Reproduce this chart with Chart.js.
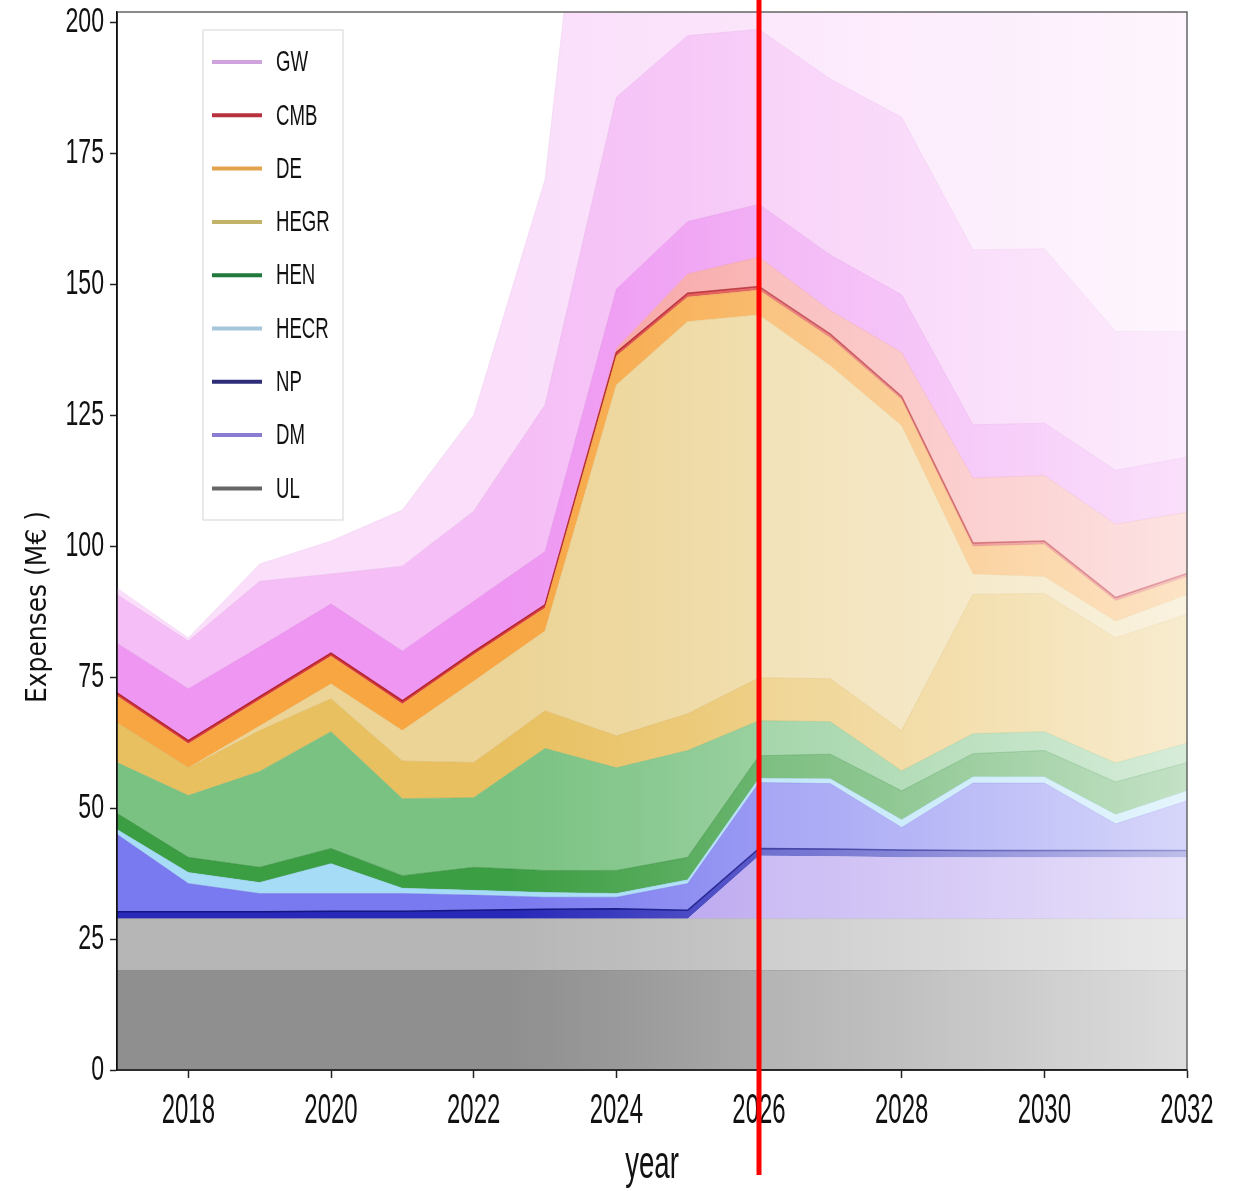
<!DOCTYPE html>
<html>
<head>
<meta charset="utf-8">
<title>Expenses</title>
<script src="https://cdn.jsdelivr.net/npm/chart.js@4.4.1/dist/chart.umd.min.js"></script>
<style>
  html, body { margin: 0; padding: 0; background: #fff; overflow: hidden; }
  #caixa { width: 1241px; height: 1191px; position: relative; }
</style>
</head>
<body>
<div id="caixa"><canvas id="grafico"></canvas></div>
<script>
const years = [2017, 2018, 2019, 2020, 2021, 2022, 2023, 2024, 2025, 2026, 2027, 2028, 2029, 2030, 2031, 2032]
const xTicks = [2018, 2020, 2022, 2024, 2026, 2028, 2030, 2032]
const yTicks = [0, 25, 50, 75, 100, 125, 150, 175, 200]
const forecastYear = 2026

// upper edge of every band (M€), bottom band first
const ulCore    = [19, 19, 19, 19, 19, 19, 19, 19, 19, 19, 19, 19, 19, 19, 19, 19]
const ulExtra   = [28.9, 28.9, 28.9, 28.9, 28.9, 28.9, 28.9, 28.9, 28.9, 28.9, 28.9, 28.9, 28.9, 28.9, 28.9, 28.9]
const dmTop     = [28.9, 28.9, 28.9, 28.9, 28.9, 28.9, 28.9, 28.9, 28.9, 40.9, 40.8, 40.6, 40.6, 40.6, 40.6, 40.6]
const npCore    = [30.2, 30.2, 30.2, 30.3, 30.3, 30.5, 30.7, 30.8, 30.5, 42.3, 42.2, 42.0, 41.9, 41.9, 41.9, 41.9]
const npExtra   = [45.0, 35.6, 33.7, 33.7, 33.7, 33.4, 33.0, 33.0, 35.6, 54.9, 54.7, 46.3, 54.8, 54.8, 47.0, 51.4]
const hecrTop   = [45.9, 37.7, 35.8, 39.4, 34.7, 34.3, 33.9, 33.7, 36.3, 55.7, 55.6, 47.8, 56.0, 56.0, 48.8, 53.3]
const henCore   = [49.0, 40.6, 38.7, 42.3, 37.1, 38.7, 38.1, 38.1, 40.6, 60.0, 60.3, 53.3, 60.4, 61.0, 55.0, 58.7]
const henExtra  = [58.7, 52.4, 57.0, 64.6, 51.8, 52.0, 61.4, 57.7, 61.0, 66.7, 66.5, 57.1, 64.2, 64.6, 58.6, 62.4]
const hegrCore  = [66.3, 57.7, 64.8, 70.9, 59.0, 58.7, 68.6, 63.8, 68.0, 74.9, 74.7, 64.8, 90.8, 91.0, 82.5, 87.0]
const hegrExtra = [66.3, 57.7, 65.7, 73.7, 64.8, 74.2, 83.8, 130.8, 142.9, 144.2, 134.5, 123.0, 94.7, 94.2, 85.7, 90.8]
const deTop     = [71.4, 62.3, 70.7, 79.0, 69.9, 79.3, 88.2, 136.3, 147.6, 148.9, 139.8, 128.0, 100.0, 100.4, 89.6, 94.2]
const cmbCore   = [72.0, 62.9, 71.3, 79.6, 70.5, 79.9, 88.8, 137.0, 148.3, 149.6, 140.5, 128.6, 100.6, 101.0, 90.2, 94.8]
const cmbExtra  = [72.0, 62.9, 71.3, 79.6, 70.5, 79.9, 88.8, 137.7, 152.0, 155.2, 145.0, 137.0, 113.0, 113.5, 104.2, 106.5]
const gwCore    = [81.5, 72.8, 80.8, 89.0, 80.0, 89.5, 99.0, 149.1, 162.0, 165.3, 155.6, 148.0, 123.2, 123.5, 114.5, 117.0]
const gwExtra   = [90.8, 81.9, 93.3, 94.7, 96.2, 106.7, 127.0, 185.7, 197.5, 198.7, 189.2, 181.9, 156.6, 156.8, 141.0, 141.0]
const gwOuter   = [92.0, 82.5, 96.6, 101.0, 106.9, 125.0, 170.0, 290, 300, 300, 300, 300, 300, 300, 300, 300]

const legendNames  = ['GW', 'CMB', 'DE', 'HEGR', 'HEN', 'HECR', 'NP', 'DM', 'UL']
const legendColors = ['#cfa3dc', '#b8323e', '#e3a24e', '#c2b26a', '#1f7a3c', '#a6c6dc', '#2e2e78', '#8a7cd0', '#666666']

// projection fades out to the right
const fadeYears = [2017, 2022.5, 2024, 2025, 2025.95, 2026.05, 2028, 2030, 2032]
const fadeAlpha = [1, 1, 0.91, 0.84, 0.77, 0.67, 0.56, 0.43, 0.3]

const fonte = '"Liberation Sans", Arial, sans-serif'

function faded(rgb, k) {
    return (context) => {
        const chart = context.chart
        const x = chart.scales.x
        if (!chart.chartArea || !x) return 'rgba(' + rgb + ',' + k + ')'
        const first = years[0]
        const last = years[years.length - 1]
        const g = chart.ctx.createLinearGradient(x.getPixelForValue(first), 0, x.getPixelForValue(last), 0)
        fadeYears.forEach((yr, i) => {
            g.addColorStop((yr - first) / (last - first), 'rgba(' + rgb + ',' + (fadeAlpha[i] * k) + ')')
        })
        return g
    }
}

// narrow text, like the squeezed labels of the original figure
function texto(ctx, str, x, y, size, sx, align) {
    ctx.save()
    ctx.translate(x, y)
    ctx.scale(sx, 1)
    ctx.font = size + 'px ' + fonte
    ctx.textAlign = align
    ctx.textBaseline = 'middle'
    ctx.fillStyle = '#111'
    ctx.fillText(str, 0, 0)
    ctx.restore()
}

const bandas = [
    { top: ulCore,    fill: '143,143,143', edge: '100,100,100', ea: 0.5, lw: 1 },
    { top: ulExtra,   fill: '182,182,182', edge: '150,150,150', ea: 0.4, lw: 1 },
    { top: dmTop,     fill: '178,155,238', edge: '150,120,220', ea: 0.3, lw: 0 },
    { top: npCore,    fill: '40,40,185',   edge: '20,20,130',   ea: 1,   lw: 1.5 },
    { top: npExtra,   fill: '122,122,240', edge: '100,100,220', ea: 0.4, lw: 1 },
    { top: hecrTop,   fill: '166,220,246', edge: '140,200,235', ea: 0.5, lw: 1 },
    { top: henCore,   fill: '60,158,66',   edge: '40,130,50',   ea: 0.5, lw: 1 },
    { top: henExtra,  fill: '122,194,130', edge: '100,170,100', ea: 0.4, lw: 1 },
    { top: hegrCore,  fill: '232,192,96',  edge: '210,170,80',  ea: 0.4, lw: 1 },
    { top: hegrExtra, fill: '236,212,150', edge: '220,190,120', ea: 0.4, lw: 1 },
    { top: deTop,     fill: '247,166,66',  edge: '230,140,50',  ea: 0.4, lw: 1 },
    { top: cmbCore,   fill: '220,60,60',   edge: '170,30,40',   ea: 0.9, lw: 1.5 },
    { top: cmbExtra,  fill: '248,160,160', edge: '230,130,140', ea: 0.4, lw: 1 },
    { top: gwCore,    fill: '238,150,242', edge: '215,130,220', ea: 0.4, lw: 1 },
    { top: gwExtra,   fill: '245,190,246', edge: '220,160,225', ea: 0.35, lw: 1 },
    { top: gwOuter,   fill: '250,222,250', edge: '230,190,235', ea: 0.35, lw: 1 }
]

const datasets = bandas.map((b, i) => ({
    data: b.top,
    fill: i === 0 ? 'origin' : '-1',
    backgroundColor: faded(b.fill, 1),
    borderColor: faded(b.edge, b.ea),
    borderWidth: b.lw,
    pointRadius: 0,
    tension: 0
}))

const extras = {
    id: 'extras',
    afterDraw(chart) {
        const { ctx, chartArea: a, scales } = chart
        ctx.save()

        // frame
        ctx.lineWidth = 1.5
        ctx.strokeStyle = '#666'
        ctx.beginPath()
        ctx.moveTo(a.left, a.top); ctx.lineTo(a.right, a.top); ctx.lineTo(a.right, a.bottom)
        ctx.stroke()
        ctx.strokeStyle = '#111'
        ctx.beginPath()
        ctx.moveTo(a.left, a.top); ctx.lineTo(a.left, a.bottom); ctx.lineTo(a.right, a.bottom)
        ctx.stroke()

        // tick labels and axis titles
        scales.x.ticks.forEach(t => {
            texto(ctx, String(t.value), scales.x.getPixelForValue(t.value), a.bottom + 41, 42, 0.57, 'center')
        })
        scales.y.ticks.forEach(t => {
            texto(ctx, String(t.value), a.left - 13, scales.y.getPixelForValue(t.value), 35, 0.66, 'right')
        })
        texto(ctx, 'year', (a.left + a.right) / 2, a.bottom + 95, 46, 0.6, 'center')

        ctx.save()
        ctx.translate(39, 607)
        ctx.rotate(-Math.PI / 2)
        ctx.scale(1, 1.12)
        ctx.font = '25px "DejaVu Sans", sans-serif'
        ctx.fillStyle = '#111'
        ctx.textAlign = 'center'
        ctx.textBaseline = 'middle'
        ctx.fillText('Expenses (M€ )', 0, 0)
        ctx.restore()

        // legend
        const lx = a.left + 86
        const ly = a.top + 18
        ctx.fillStyle = 'rgba(255,255,255,0.85)'
        ctx.fillRect(lx, ly, 140, 490)
        ctx.strokeStyle = '#dddddd'
        ctx.lineWidth = 1.2
        ctx.strokeRect(lx, ly, 140, 490)
        legendNames.forEach((nome, i) => {
            const y = ly + 32 + i * 53.3
            ctx.strokeStyle = legendColors[i]
            ctx.lineWidth = 4
            ctx.beginPath()
            ctx.moveTo(lx + 9, y); ctx.lineTo(lx + 59, y)
            ctx.stroke()
            texto(ctx, nome, lx + 73, y + 1, 30, 0.62, 'left')
        })

        // forecast start
        const xr = scales.x.getPixelForValue(forecastYear)
        ctx.strokeStyle = '#ff0000'
        ctx.lineWidth = 5
        ctx.beginPath()
        ctx.moveTo(xr, 0); ctx.lineTo(xr, a.bottom + 105)
        ctx.stroke()

        ctx.restore()
    }
}

new Chart(document.getElementById('grafico'), {
    type: 'line',
    data: { labels: years, datasets: datasets },
    options: {
        responsive: true,
        maintainAspectRatio: false,
        animation: false,
        events: [],
        layout: { padding: { top: 12, right: 54, left: 0, bottom: 0 } },
        plugins: {
            legend: { display: false },
            tooltip: { enabled: false }
        },
        scales: {
            x: {
                type: 'linear',
                min: 2017,
                max: 2032,
                afterBuildTicks: (axis) => { axis.ticks = xTicks.map(v => ({ value: v })) },
                afterFit: (axis) => { axis.height = 121; axis.paddingLeft = 0; axis.paddingRight = 0 },
                ticks: { display: false },
                grid: { display: true, drawOnChartArea: false, drawTicks: true, tickLength: 8, tickWidth: 1.5, tickColor: '#222' },
                border: { display: true, color: '#111', width: 1.5 }
            },
            y: {
                min: 0,
                max: 202,
                afterBuildTicks: (axis) => { axis.ticks = yTicks.map(v => ({ value: v })) },
                afterFit: (axis) => { axis.width = 117; axis.paddingTop = 0; axis.paddingBottom = 0 },
                ticks: { display: false },
                grid: { display: true, drawOnChartArea: false, drawTicks: true, tickLength: 7, tickWidth: 1.5, tickColor: '#222' },
                border: { display: true, color: '#111', width: 1.5 }
            }
        }
    },
    plugins: [extras]
})
</script>
</body>
</html>
